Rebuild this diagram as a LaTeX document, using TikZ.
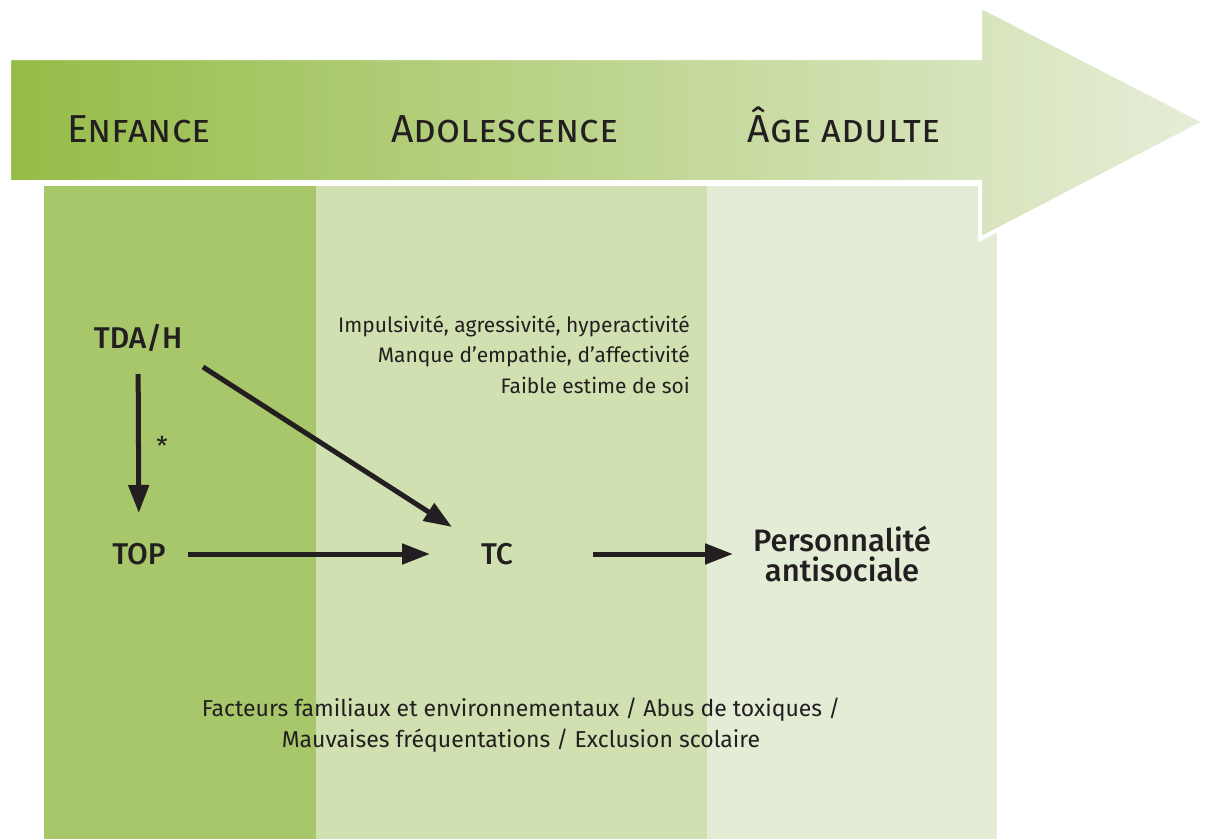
\documentclass[tikz,border=0pt]{standalone}
\usepackage{fontspec}
\setmainfont{Fira Sans}
\newfontfamily\medfont{Fira Sans Medium}
\usetikzlibrary{arrows.meta,calc}
\definecolor{gdark}{HTML}{96BC47}
\definecolor{glight}{HTML}{E6EED8}
\definecolor{pone}{HTML}{A8C66A}
\definecolor{ptwo}{HTML}{D0E0B0}
\definecolor{pthree}{HTML}{E3EDD6}
\definecolor{ink}{HTML}{231F20}
\tikzset{
  header/.style={text=ink, font=\fontsize{39}{39}\selectfont, anchor=base, inner sep=0pt},
  lab/.style={text=ink, font=\medfont\fontsize{30}{30}\selectfont, inner sep=0pt},
  body/.style={text=ink, font=\fontsize{21}{30.5}\selectfont, inner sep=0pt},
  arr/.style={ink, line width=5pt, -{Triangle[width=20pt,length=28pt]}}
}
\begin{document}
\begin{tikzpicture}[x=1pt,y=-1pt]
\useasboundingbox (0,0) rectangle (1211,839);
% panels
\fill[pone] (44,186) rectangle (316,839);
\fill[ptwo] (316,186) rectangle (707,839);
\fill[pthree] (707,186) rectangle (997,839);
% big arrow
\path[left color=gdark, right color=glight, draw=white, line width=4pt]
  (9,58) -- (980,58) -- (980,6) -- (1205,122) -- (980,239) -- (980,182) -- (9,182) -- cycle;
% headers
\node[header] (h1) at (139,142) {\textsc{Enfance}};
\node[header] (h2) at (505,142) {\textsc{Adolescence}};
\node[header] (h3) at (844,142) {\textsc{Âge adulte}};
% nodes
\node[lab] (tdah) at (138,338) {TDA/H};
\node[lab] (top) at (139,554) {TOP};
\node[lab] (tc) at (497,554) {TC};
\node[lab, align=center, font=\medfont\fontsize{31}{30}\selectfont] (pers) at (842,554) {Personnalité\\antisociale};
\node[body, align=right, anchor=north east] (traits) at (690,315) {Impulsivité, agressivité, hyperactivité\\Manque d’empathie, d’affectivité\\Faible estime de soi};
\node[body, align=center, font=\fontsize{23}{31.5}\selectfont] (facteurs) at (521,725) {Facteurs familiaux et environnementaux / Abus de toxiques /\\Mauvaises fréquentations / Exclusion scolaire};
% arrows
\draw[arr, shorten <=36pt, shorten >=41pt] (tdah.center) -- (top.center)
  node[pos=0.5, right=12pt, text=ink, font=\fontsize{26}{26}\selectfont] (ast) {*};
\draw[arr] ($(tdah.center)+(65,29)$) -- ($(tc.center)+(-45,-27)$);
\draw[arr, shorten <=49pt, shorten >=67pt] (top.center) -- (tc.center);
\draw[arr, shorten <=96pt, shorten >=109pt] (tc.center) -- (pers.center);
\end{tikzpicture}
\end{document}
